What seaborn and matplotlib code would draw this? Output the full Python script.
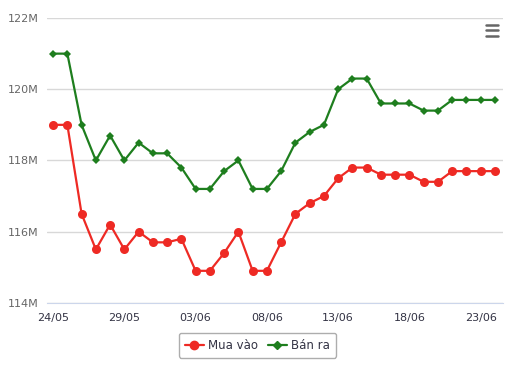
import pandas as pd
import matplotlib.pyplot as plt
import seaborn as sns
from matplotlib.lines import Line2D

# Dữ liệu giá (triệu đồng)
ngay = pd.date_range('2024-05-24', '2024-06-24', freq='D')
nhan_ngay = [d.strftime('%d/%m') for d in ngay]
mua_vao = [119.0, 119.0, 116.5, 115.5, 116.2, 115.5, 116.0, 115.7, 115.7, 115.8,
           114.9, 114.9, 115.4, 116.0, 114.9, 114.9, 115.7, 116.5, 116.8, 117.0,
           117.5, 117.8, 117.8, 117.6, 117.6, 117.6, 117.4, 117.4, 117.7, 117.7,
           117.7, 117.7]
ban_ra = [121.0, 121.0, 119.0, 118.0, 118.7, 118.0, 118.5, 118.2, 118.2, 117.8,
          117.2, 117.2, 117.7, 118.0, 117.2, 117.2, 117.7, 118.5, 118.8, 119.0,
          120.0, 120.3, 120.3, 119.6, 119.6, 119.6, 119.4, 119.4, 119.7, 119.7,
          119.7, 119.7]
y_ticks = [114, 116, 118, 120, 122]

du_lieu = pd.DataFrame({'x': range(len(nhan_ngay)), 'mua': mua_vao, 'ban': ban_ra})

mau_do = '#ee2a24'
mau_xanh = '#1e7e1e'

sns.set_style('white')
plt.rcParams['font.family'] = ['DejaVu Sans']

fig = plt.figure(figsize=(5.12, 3.68), dpi=100)
ax = fig.add_axes([0.092, 0.177, 0.890, 0.774])

sns.lineplot(data=du_lieu, x='x', y='ban', ax=ax, color=mau_xanh, marker='D',
             markersize=4.5, markeredgewidth=0, linewidth=1.6, zorder=3)
sns.lineplot(data=du_lieu, x='x', y='mua', ax=ax, color=mau_do, marker='o',
             markersize=6.5, markeredgewidth=0, linewidth=1.6, zorder=4)

ax.set_ylim(114, 122)
ax.set_xlim(-0.42, len(nhan_ngay) - 0.45)
ax.set_yticks(y_ticks)
ax.set_yticklabels([f'{v}M' for v in y_ticks], color='#666666', fontsize=8)
ax.grid(axis='y', color='#d8d8d8', linewidth=1)
ax.set_axisbelow(True)

vi_tri = list(range(0, len(nhan_ngay), 5))
ax.set_xticks(vi_tri)
ax.set_xticklabels([nhan_ngay[i] for i in vi_tri], color='#333344', fontsize=8)
ax.set_xticks(range(len(nhan_ngay)), minor=True)
ax.tick_params(axis='x', which='both', length=6, color='#ccd6eb', width=1, pad=1)
ax.tick_params(axis='y', length=0, pad=6)
ax.set_xlabel('')
ax.set_ylabel('')

for s in ['top', 'right', 'left']:
    ax.spines[s].set_visible(False)
ax.spines['bottom'].set_color('#ccd6eb')

# Nút menu
for yy in [0.933, 0.918, 0.903]:
    fig.add_artist(Line2D([0.949, 0.973], [yy, yy], color='#666666', linewidth=1.8,
                          solid_capstyle='round'))

# Chú thích
handles = [Line2D([], [], color=mau_do, marker='o', markersize=6, linewidth=1.6),
           Line2D([], [], color=mau_xanh, marker='D', markersize=4.5, linewidth=1.6)]
leg = fig.legend(handles, ['Mua vào', 'Bán ra'], loc='center', bbox_to_anchor=(0.503, 0.062),
                 ncol=2, frameon=True, fontsize=8.5, handlelength=1.6, handletextpad=0.4,
                 columnspacing=0.8, borderpad=0.5, fancybox=True)
leg.get_frame().set_edgecolor('#999999')
leg.get_frame().set_linewidth(1)
for t in leg.get_texts():
    t.set_color('#333344')

fig.savefig('out.png', dpi=100)
